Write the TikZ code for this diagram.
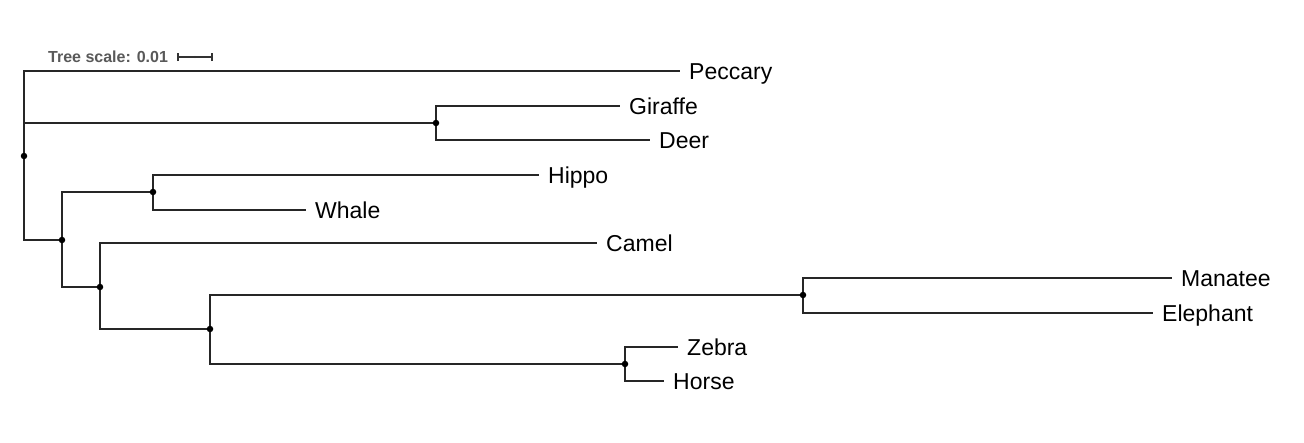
\documentclass[tikz,border=0pt]{standalone}
\usepackage{fontspec}
\setmainfont{Liberation Sans}
\begin{document}
\begin{tikzpicture}[x=1pt,y=-1pt,
  branch/.style={draw=black!85,line width=1.3pt},
  leaf/.style={anchor=west,inner xsep=9pt,inner ysep=0pt,text height=16.3pt,text depth=0pt,font=\fontsize{23}{27}\selectfont},
  dot/.style={circle,fill=black,inner sep=0pt,minimum size=6.5pt}]
\useasboundingbox (0,0) rectangle (1304,442);
% internal nodes
\coordinate (root) at (24,156);
\coordinate (gd) at (436,123);
\coordinate (n1) at (62,240);
\coordinate (hw) at (153,192);
\coordinate (n2) at (100,287);
\coordinate (n3) at (210,329);
\coordinate (me) at (803,295);
\coordinate (zh) at (625,364);
% leaves
\node[leaf] (peccary) at (680,71) {Peccary};
\node[leaf] (giraffe) at (620,106) {Giraffe};
\node[leaf] (deer) at (650,140) {Deer};
\node[leaf] (hippo) at (539,175) {Hippo};
\node[leaf] (whale) at (306,210) {Whale};
\node[leaf] (camel) at (597,243) {Camel};
\node[leaf] (manatee) at (1172,278) {Manatee};
\node[leaf] (elephant) at (1153,313) {Elephant};
\node[leaf] (zebra) at (678,347) {Zebra};
\node[leaf] (horse) at (664,381) {Horse};
% branches
\draw[branch] (root) |- (peccary.west);
\draw[branch] (root) |- (gd);
\draw[branch] (root) |- (n1);
\draw[branch] (gd) |- (giraffe.west);
\draw[branch] (gd) |- (deer.west);
\draw[branch] (n1) |- (hw);
\draw[branch] (n1) |- (n2);
\draw[branch] (hw) |- (hippo.west);
\draw[branch] (hw) |- (whale.west);
\draw[branch] (n2) |- (camel.west);
\draw[branch] (n2) |- (n3);
\draw[branch] (n3) |- (me);
\draw[branch] (n3) |- (zh);
\draw[branch] (me) |- (manatee.west);
\draw[branch] (me) |- (elephant.west);
\draw[branch] (zh) |- (zebra.west);
\draw[branch] (zh) |- (horse.west);
% dots
\foreach \n in {root,gd,n1,hw,n2,n3,me,zh} \node[dot] at (\n) {};
% tree scale
\node[anchor=west,inner sep=0pt,text=black!65,font=\fontsize{16}{19}\bfseries\selectfont] (scale) at (48,57) {Tree scale: 0.01};
\coordinate (sa) at (178,57);
\coordinate (sb) at (212,57);
\draw[black!80,line width=1.1pt] (sa) -- (sb);
\draw[black!80,line width=1.1pt] ([yshift=-4pt]sa) -- ([yshift=4pt]sa);
\draw[black!80,line width=1.1pt] ([yshift=-4pt]sb) -- ([yshift=4pt]sb);
\fill[black!80] (195,57) circle (1.1pt);
\end{tikzpicture}
\end{document}
